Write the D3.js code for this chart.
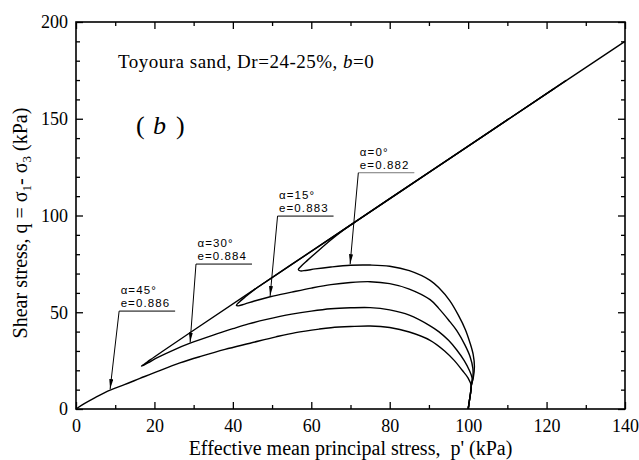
<!DOCTYPE html>
<html>
<head>
<meta charset="utf-8">
<script src="https://cdn.jsdelivr.net/npm/d3@7"></script>
<style>
  html, body { margin: 0; padding: 0; background: #fff; }
  svg { display: block; }
</style>
</head>
<body>
<svg id="chart" width="639" height="460"></svg>
<script>
// Undrained stress paths of loose Toyoura sand, [p', q] in kPa
const pathAlpha0 = [
  [100,0],[100.3,4],[100.6,8],[100.8,12],[101.3,16],[101.6,22],[101.3,28],[100.5,34],
  [99.3,41],[97.5,48.5],[95.3,56],[92.6,62.5],[90.3,66.5],[85,71.5],[80,73.8],[75,74.4],
  [70,74.3],[65,73.4],[61,72.4],[58.5,71.6],[57.2,71.4],[56.7,72.1],[57.4,73.8],[59,76.8],
  [61.5,81.3],[64.5,86.6],[68,92.2],[72,97.8],[80,108.7],[95,129],[110,149.4],[125,169.8]
];
const pathAlpha15 = [
  [100,0],[100.3,4],[100.6,8],[100.8,12],[101.2,16],[101.2,21],[100.5,27],[99.2,33],
  [97.1,40.5],[95,46],[92.5,52],[90.3,56.5],[85,62],[80,64.8],[75,65.8],[70,65.4],
  [65,64.3],[60,62.5],[55,60.4],[49.5,58],[45.5,55.8],[43,54.2],[41.3,53.3],[40.9,53.6],
  [41.6,55.2],[43.2,58],[45.5,61.7],[48.5,65.9],[55,74.7],[70,95],[90,122.2],[110,149.4],[122,165.7]
];
const pathAlpha30 = [
  [100,0],[100.3,4],[100.6,8],[100.8,12],[101,16],[100.3,20],[99,25],[97.1,30.5],
  [95,35.5],[92.5,40],[90.3,43],[85,48.5],[80,51.2],[75,52.4],[70,52.3],[65,51.8],
  [60,50.6],[55,49],[48.6,46.3],[44,44],[40,41.5],[35,38.2],[29.1,34],[25,30.6],
  [21,26.8],[18.3,23.8],[17,22.4],[16.7,22.2],[17.3,23],[19,25.5],[22,29.7],[30,40.7],
  [50,67.9],[80,108.7],[110,149.4],[140,190]
];
const pathAlpha45 = [
  [100,0],[100.3,4],[100.6,8],[100.8,12],[100,16],[98.5,20],[96.5,25],[94,30],
  [90.3,35.5],[85,39.8],[80,42.1],[75,42.9],[70,42.6],[65,42],[62,41.3],[56,39.5],
  [51,37.3],[44.4,34],[38,30.8],[32,27.3],[26.5,23.8],[21,19.6],[16.3,15.8],[12.5,12.7],
  [8.7,9.8],[5,6],[2,2.6],[0,0]
];

// Test labels: fabric angle, void ratio, point on the path that the arrow marks
const alphaLabels = ["\u03b1=45\u00b0", "\u03b1=30\u00b0", "\u03b1=15\u00b0", "\u03b1=0\u00b0"];
const voidRatios = ["e=0.886", "e=0.884", "e=0.883", "e=0.882"];
const markedPoints = [[8.7, 10.3], [29.1, 34.4], [49.5, 58.4], [69.9, 74.8]];
// Where each label's underline starts, in p'/q units
const labelAnchors = [[11.0, 50.6], [30.6, 74.9], [51.4, 99.7], [72.0, 122.1]];

const xTicks = [0, 20, 40, 60, 80, 100, 120, 140];
const yTicks = [0, 50, 100, 150, 200];

const svg = d3.select("#chart");
const plotLeft = 76, plotRight = 625, plotTop = 22, plotBottom = 409;

const x = d3.scaleLinear().domain([0, 140]).range([plotLeft, plotRight]);
const y = d3.scaleLinear().domain([0, 200]).range([plotBottom, plotTop]);

const serif = "'Liberation Serif', 'Times New Roman', serif";
const sans = "'Liberation Sans', Arial, sans-serif";

// minor tick values
const xMinor = d3.range(0, 141, 10).filter(v => v % 20 !== 0);
const yMinor = d3.range(0, 201, 10).filter(v => v % 50 !== 0);

function styleAxis(g) {
  g.select(".domain").remove();
  g.selectAll(".tick line").attr("stroke", "#000").attr("stroke-width", 1.3);
}

// bottom axis with labels
svg.append("g").attr("transform", `translate(0,${plotBottom})`)
  .call(d3.axisBottom(x).tickValues(xTicks).tickSizeInner(-7).tickSizeOuter(0).tickPadding(10).tickFormat(d3.format("d")))
  .call(styleAxis)
  .call(g => g.selectAll("text").attr("font-family", serif).attr("font-size", 18).attr("fill", "#000"));
svg.append("g").attr("transform", `translate(0,${plotBottom})`)
  .call(d3.axisBottom(x).tickValues(xMinor).tickSizeInner(-4).tickSizeOuter(0).tickFormat(""))
  .call(styleAxis);
// top axis, ticks only
svg.append("g").attr("transform", `translate(0,${plotTop})`)
  .call(d3.axisTop(x).tickValues(xTicks).tickSizeInner(-7).tickSizeOuter(0).tickFormat(""))
  .call(styleAxis);
svg.append("g").attr("transform", `translate(0,${plotTop})`)
  .call(d3.axisTop(x).tickValues(xMinor).tickSizeInner(-4).tickSizeOuter(0).tickFormat(""))
  .call(styleAxis);
// left axis with labels
svg.append("g").attr("transform", `translate(${plotLeft},0)`)
  .call(d3.axisLeft(y).tickValues(yTicks).tickSizeInner(-7).tickSizeOuter(0).tickPadding(8).tickFormat(d3.format("d")))
  .call(styleAxis)
  .call(g => g.selectAll("text").attr("font-family", serif).attr("font-size", 18).attr("fill", "#000"));
svg.append("g").attr("transform", `translate(${plotLeft},0)`)
  .call(d3.axisLeft(y).tickValues(yMinor).tickSizeInner(-4).tickSizeOuter(0).tickFormat(""))
  .call(styleAxis);
// right axis, ticks only
svg.append("g").attr("transform", `translate(${plotRight},0)`)
  .call(d3.axisRight(y).tickValues(yTicks).tickSizeInner(-7).tickSizeOuter(0).tickFormat(""))
  .call(styleAxis);
svg.append("g").attr("transform", `translate(${plotRight},0)`)
  .call(d3.axisRight(y).tickValues(yMinor).tickSizeInner(-4).tickSizeOuter(0).tickFormat(""))
  .call(styleAxis);

// frame
svg.append("rect")
  .attr("x", plotLeft).attr("y", plotTop)
  .attr("width", plotRight - plotLeft).attr("height", plotBottom - plotTop)
  .attr("fill", "none").attr("stroke", "#000").attr("stroke-width", 1.6);

// stress paths
const line = d3.line()
  .x(d => x(d[0])).y(d => y(d[1]))
  .curve(d3.curveCatmullRom.alpha(0.5));

svg.append("g")
  .selectAll("path")
  .data([pathAlpha0, pathAlpha15, pathAlpha30, pathAlpha45])
  .join("path")
  .attr("d", line)
  .attr("fill", "none")
  .attr("stroke", "#000")
  .attr("stroke-width", 1.4)
  .attr("stroke-linejoin", "round");

// arrow head for the label leaders
svg.append("defs").append("marker")
  .attr("id", "head")
  .attr("viewBox", "0 0 10 4")
  .attr("refX", 10).attr("refY", 2)
  .attr("markerWidth", 10).attr("markerHeight", 4)
  .attr("markerUnits", "userSpaceOnUse")
  .attr("orient", "auto")
  .append("path").attr("d", "M0,0 L10,2 L0,4 Z").attr("fill", "#000");

const notes = svg.append("g");
alphaLabels.forEach((lab, i) => {
  const ax = x(labelAnchors[i][0]), ay = y(labelAnchors[i][1]);
  const tx = x(markedPoints[i][0]), ty = y(markedPoints[i][1]);
  notes.append("line")
    .attr("x1", ax).attr("y1", ay).attr("x2", ax + 56).attr("y2", ay)
    .attr("stroke", i === 3 ? "#777" : "#000").attr("stroke-width", 1);
  notes.append("line")
    .attr("x1", ax).attr("y1", ay).attr("x2", tx).attr("y2", ty)
    .attr("stroke", "#000").attr("stroke-width", 1)
    .attr("marker-end", "url(#head)");
  const t = notes.append("g")
    .attr("font-family", sans).attr("font-size", 11.5)
    .attr("letter-spacing", 1.1).attr("fill", "#000");
  t.append("text").attr("x", ax + 1.5).attr("y", ay - 17).text(lab);
  t.append("text").attr("x", ax + 1.5).attr("y", ay - 4).text(voidRatios[i]);
});

// heading inside the plot
const head = svg.append("text")
  .attr("x", 118).attr("y", 68)
  .attr("font-family", serif).attr("font-size", 19)
  .attr("letter-spacing", 0.5).attr("fill", "#000");
head.append("tspan").text("Toyoura sand, Dr=24-25%, ");
head.append("tspan").attr("font-style", "italic").text("b");
head.append("tspan").text("=0");

// panel tag
const tag = svg.append("g").attr("font-family", serif).attr("font-size", 26).attr("fill", "#000");
tag.append("text").attr("x", 136).attr("y", 134).text("(");
tag.append("text").attr("x", 153).attr("y", 134).attr("font-style", "italic").text("b");
tag.append("text").attr("x", 176).attr("y", 134).text(")");

// axis titles
svg.append("text")
  .attr("x", (plotLeft + plotRight) / 2).attr("y", 455)
  .attr("text-anchor", "middle")
  .attr("font-family", serif).attr("font-size", 20).attr("fill", "#000")
  .attr("xml:space", "preserve")
  .text("Effective mean principal stress,  p' (kPa)");

const yt = svg.append("text")
  .attr("transform", "translate(27,223) rotate(-90)")
  .attr("text-anchor", "middle")
  .attr("font-family", serif).attr("font-size", 20).attr("fill", "#000");
yt.append("tspan").text("Shear stress, q = \u03c3");
yt.append("tspan").attr("font-size", 13).attr("dy", 4).text("1");
yt.append("tspan").attr("dy", -4).text("- \u03c3");
yt.append("tspan").attr("font-size", 13).attr("dy", 4).text("3");
yt.append("tspan").attr("dy", -4).text(" (kPa)");
</script>
</body>
</html>
